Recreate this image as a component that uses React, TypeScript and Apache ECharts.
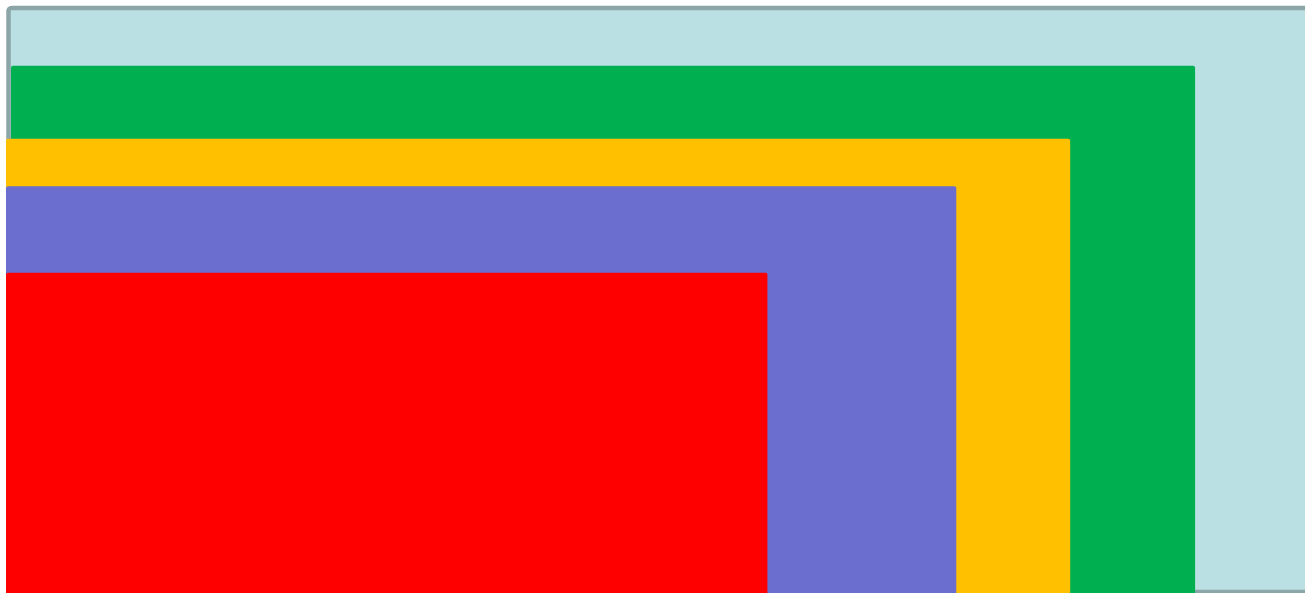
import React, { useEffect, useRef } from "react";
import * as echarts from "echarts";

// Each block: [name, xStart, xEnd, yBottom, yTop]
const names = ["Total", "Green", "Yellow", "Purple", "Red"];
const xStarts = [0.25, 0.5, 0, 0, 0];
const xEnds = [140, 119.0, 106.5, 95.1, 76.2];
const yBottoms = [0.17, -1, -1, -1, -1];
const yTops = [98.65, 88.9, 76.6, 68.6, 54.0];
const colors = ["#bae0e4", "#00b050", "#ffc000", "#6b6dcf", "#ff0000"];

export default function App() {
  const ref = useRef<HTMLDivElement>(null);
  useEffect(() => {
    if (!ref.current) return;
    const chart = echarts.init(ref.current, null, { renderer: "svg" });
    const data = names.map((n, i) => ({
      name: n,
      value: [xStarts[i], xEnds[i], yBottoms[i], yTops[i]],
    }));
    chart.setOption({
      animation: false,
      grid: { left: 6, right: 0, top: 0, bottom: 0 },
      xAxis: { type: "value", min: 0, max: 130, show: false },
      yAxis: { type: "value", min: 0, max: 100, show: false },
      series: [
        {
          type: "custom",
          clip: false,
          data,
          renderItem: (params: any, api: any) => {
            const i = params.dataIndex;
            const p0 = api.coord([api.value(0), api.value(3)]);
            const p1 = api.coord([api.value(1), api.value(2)]);
            const isBg = i === 0;
            return {
              type: "rect",
              shape: {
                x: p0[0],
                y: p0[1],
                width: p1[0] - p0[0],
                height: p1[1] - p0[1],
                r: isBg ? 3 : [2, 2, 0, 0],
              },
              style: {
                fill: colors[i],
                stroke: isBg ? "#8ba5a8" : "none",
                lineWidth: isBg ? 4.5 : 0,
              },
            };
          },
        },
      ],
    });
    return () => chart.dispose();
  }, []);
  return (
    <div
      ref={ref}
      style={{ position: "fixed", left: 0, top: 0, width: 1305, height: 593 }}
    />
  );
}
